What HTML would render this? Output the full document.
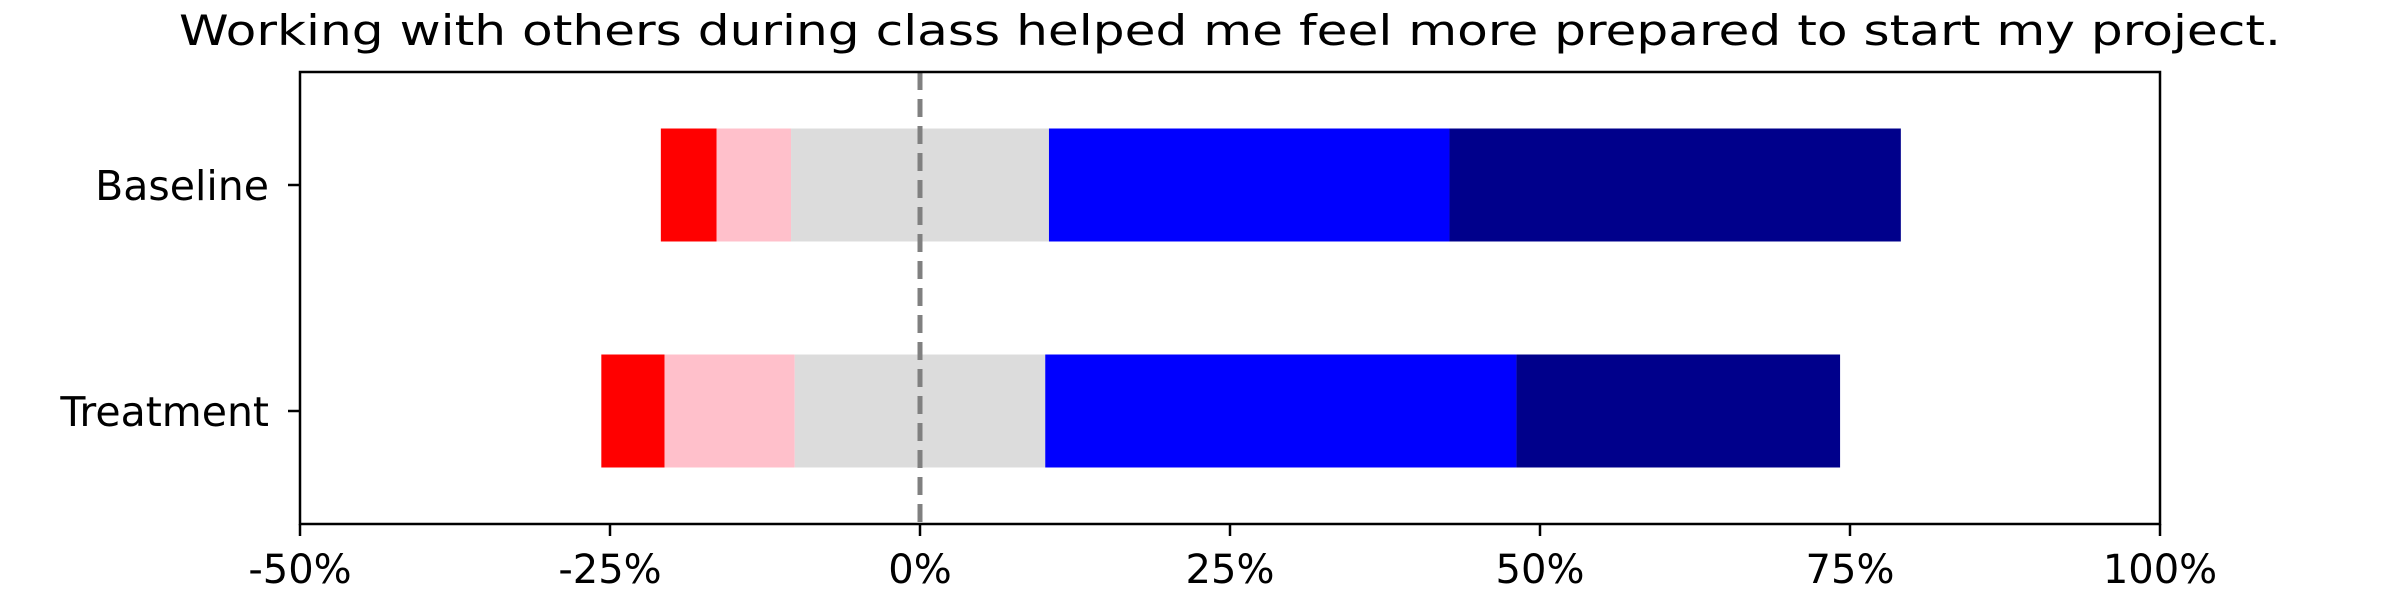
<!DOCTYPE html>
<html><head><meta charset="utf-8"><style>
html,body{margin:0;padding:0;background:#fff;}
svg{display:block;font-family:"DejaVu Sans","Liberation Sans",sans-serif;}
</style></head><body>
<svg id="chart" width="2400" height="600" viewBox="0 0 2400 600" xmlns="http://www.w3.org/2000/svg">
<text x="1230" y="45" font-size="42" text-anchor="middle" textLength="2102" lengthAdjust="spacingAndGlyphs">Working with others during class helped me feel more prepared to start my project.</text>
<g id="plot"></g>
</svg>
<script>
const categories = ["Baseline", "Treatment"];
const stronglyDisagree = [4.5, 5.1];
const disagree = [6.0, 10.5];
const neutral = [20.8, 20.2];
const agree = [32.3, 38.0];
const stronglyAgree = [36.4, 26.1];
const seriesNames = ["strongly-disagree", "disagree", "neutral", "agree", "strongly-agree"];
const xTicks = [-50, -25, 0, 25, 50, 75, 100];
const xTickLabels = ["-50%", "-25%", "0%", "25%", "50%", "75%", "100%"];

const NS = "http://www.w3.org/2000/svg";
const L = 300, R = 2160, T = 72, B = 524;
const xMin = -50, xMax = 100;
const xs = v => L + (v - xMin) / (xMax - xMin) * (R - L);
const yCenters = [185, 411];
const ys = i => yCenters[i];
const barH = 113;
const colors = ["#ff0000", "#ffc0cb", "#dcdcdc", "#0000ff", "#00008b"];
const g = document.getElementById("plot");
function mk(tag, attrs) { const e = document.createElementNS(NS, tag); for (const k in attrs) e.setAttribute(k, attrs[k]); g.appendChild(e); return e; }

const series = [stronglyDisagree, disagree, neutral, agree, stronglyAgree];
categories.forEach((c, i) => {
  let start = -(stronglyDisagree[i] + disagree[i] + neutral[i] / 2);
  series.forEach((s, j) => {
    const r = mk("rect", { x: xs(start), y: ys(i) - barH / 2, width: xs(start + s[i]) - xs(start), height: barH, fill: colors[j] });
    
    
    start += s[i];
  });
  const tk = mk("line", { x1: L - 12, x2: L, y1: ys(i), y2: ys(i), stroke: "#000", "stroke-width": 2.5 });
  
  
  const lb = mk("text", { x: L - 31, y: ys(i) + 15, "font-size": 41, "text-anchor": "end" });
  lb.textContent = c;
  
  
});

const zl = mk("line", { x1: xs(0), x2: xs(0), y1: T, y2: B, stroke: "#808080", "stroke-width": 5, "stroke-dasharray": "18 9" });



const fr = mk("rect", { x: L, y: T, width: R - L, height: B - T, fill: "none", stroke: "#000", "stroke-width": 2.5 });



xTicks.forEach((v, k) => {
  const t = mk("line", { x1: xs(v), x2: xs(v), y1: B, y2: B + 12, stroke: "#000", "stroke-width": 2.5 });
  
  
  const tl = mk("text", { x: xs(v), y: 583, "font-size": 40, "text-anchor": "middle" });
  tl.textContent = xTickLabels[k];
  
  
});
</script>
</body></html>
